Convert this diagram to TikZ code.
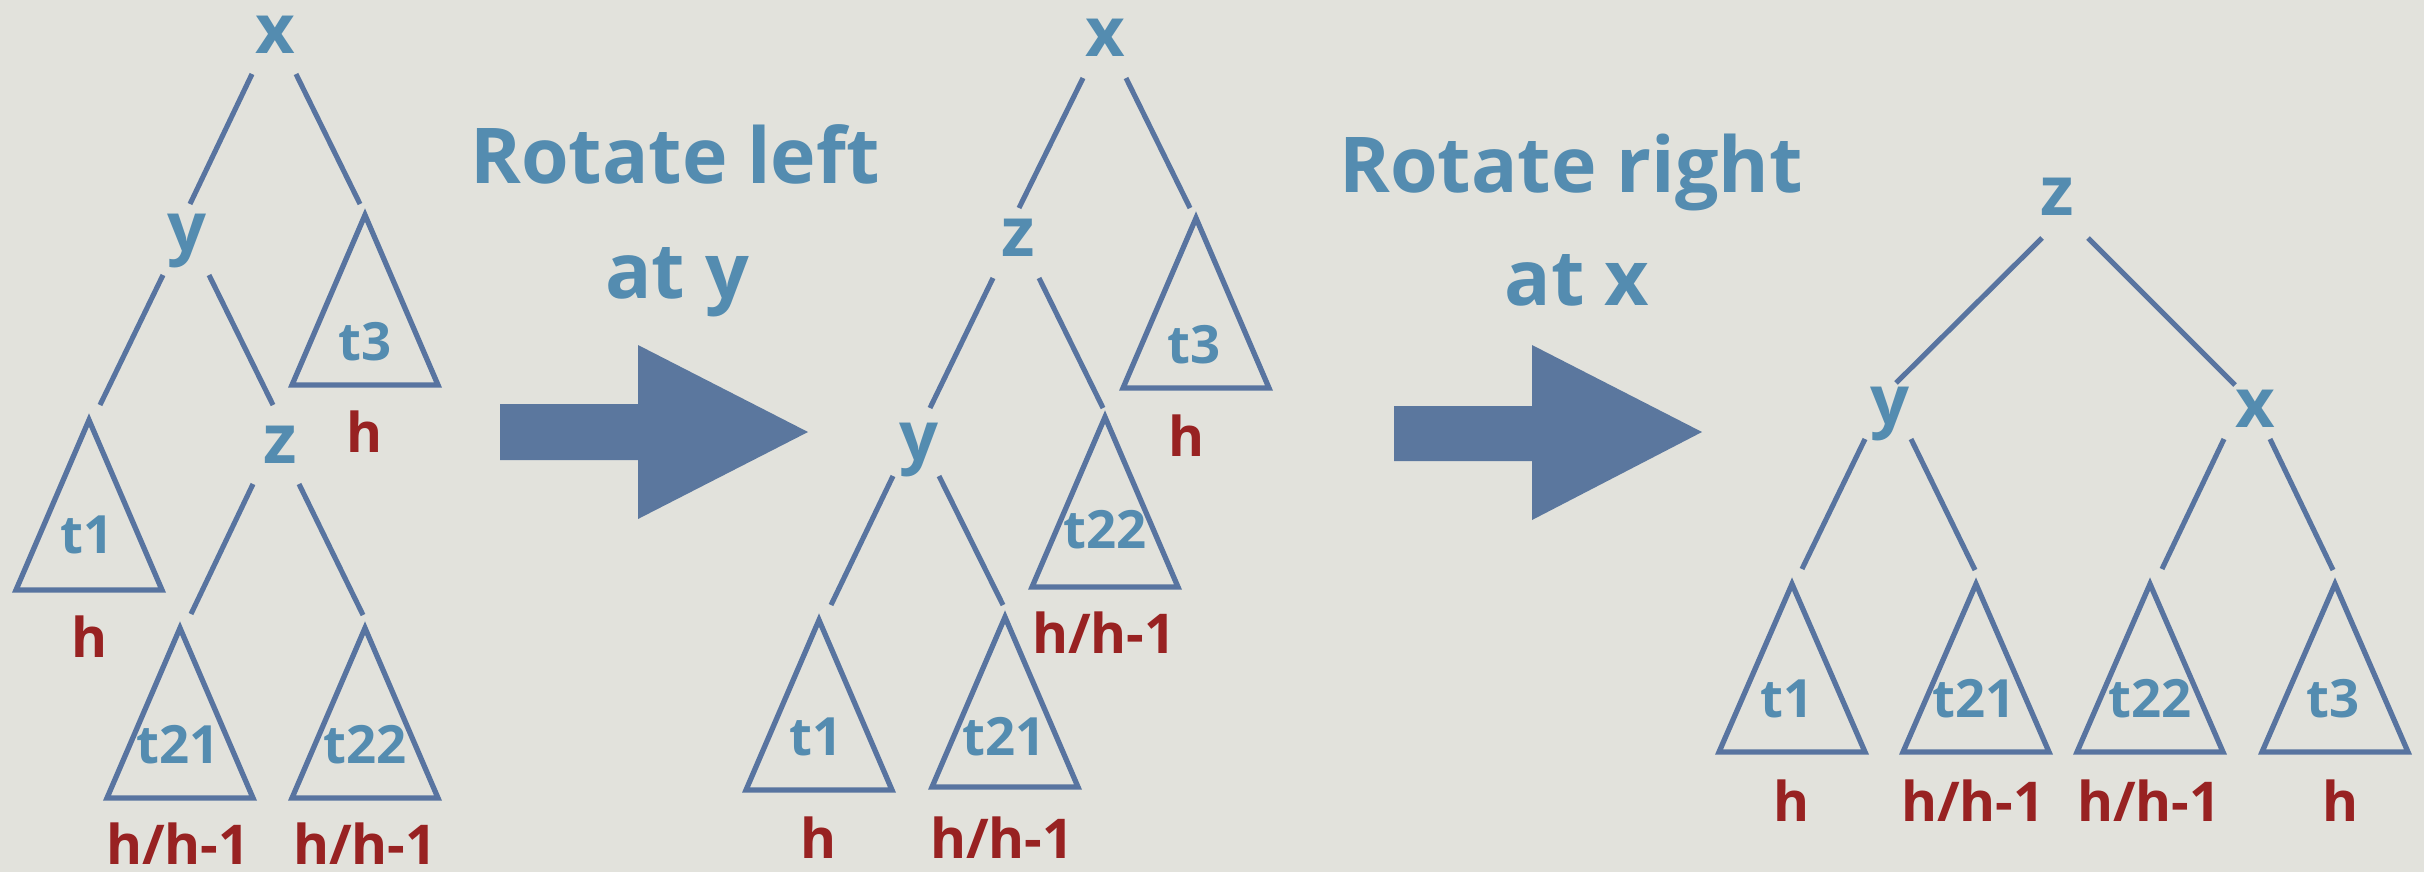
\documentclass[tikz,border=0pt]{standalone}
\usepackage{fontspec}
\setmainfont{Open Sans}
\definecolor{bgc}{RGB}{226,226,220}
\definecolor{txtblue}{RGB}{84,140,176}
\definecolor{lineblue}{RGB}{88,116,160}
\definecolor{arrowblue}{RGB}{91,119,158}
\definecolor{hred}{RGB}{152,34,34}
\begin{document}
\begin{tikzpicture}[x=0.01cm,y=-0.01cm,
  vlabel/.style={inner sep=0pt,anchor=base,text=txtblue,font=\bfseries\fontsize{19.5pt}{20pt}\selectfont},
  tlabel/.style={inner sep=0pt,anchor=base,text=txtblue,font=\bfseries\fontsize{15pt}{15pt}\selectfont},
  hlabel/.style={inner sep=0pt,anchor=base,text=hred,font=\bfseries\fontsize{15.6pt}{16pt}\selectfont},
  caption/.style={inner sep=0pt,anchor=base,text=txtblue,font=\bfseries\fontsize{21.9pt}{22pt}\selectfont},
  edge/.style={draw=lineblue,line width=1.45pt},
  tri/.style={draw=lineblue,line width=1.5pt,line join=miter},
  bigarrow/.style={fill=arrowblue,draw=none}]
\useasboundingbox (0,0) rectangle (2424,872);
\fill[bgc] (0,0) rectangle (2424,872);

% ---------- Tree 1 ----------
\node[vlabel] (X1) at (275,53) {x};
\node[vlabel] (Y1) at (187,251) {y};
\node[vlabel] (Z1) at (280,463) {z};
\coordinate (A1t3) at (365,215);
\coordinate (A1t1) at (89,420);
\coordinate (A1t21) at (180,628);
\coordinate (A1t22) at (365,628);
\foreach \a in {A1t3,A1t1,A1t21,A1t22}
  \draw[tri] (\a) -- ++(-73,170) -- ++(146,0) -- cycle;
\draw[edge] ([shift={(-23,21)}]X1.base) -- ([shift={(3,-47)}]Y1.base);
\draw[edge] ([shift={(21,21)}]X1.base) -- ([shift={(-5,-11)}]A1t3);
\draw[edge] ([shift={(-24,24)}]Y1.base) -- ([shift={(11,-15)}]A1t1);
\draw[edge] ([shift={(22,24)}]Y1.base) -- ([shift={(-7,-58)}]Z1.base);
\draw[edge] ([shift={(-27,21)}]Z1.base) -- ([shift={(11,-14)}]A1t21);
\draw[edge] ([shift={(19,21)}]Z1.base) -- ([shift={(-2,-13)}]A1t22);
\node[tlabel] (L1t3) at (365,360) {t3};
\node[tlabel] (L1t1) at (87,553) {t1};
\node[tlabel] (L1t21) at (178,763) {t21};
\node[tlabel] (L1t22) at (365,763) {t22};
\node[hlabel] (H1t3) at (365,452) {h};
\node[hlabel] (H1t1) at (90,657) {h};
\node[hlabel] (H1t21) at (178,864) {h/h-1};
\node[hlabel] (H1t22) at (365,864) {h/h-1};

% ---------- Caption 1 + arrow ----------
\node[caption] (C1a) at (675,183) {Rotate left};
\node[caption] (C1b) at (677,298) {at y};
\fill[bigarrow] (500,404) -- (638,404) -- (638,345) -- (808,432) -- (638,519) -- (638,460) -- (500,460) -- cycle;

% ---------- Tree 2 ----------
\node[vlabel] (X2) at (1105,56) {x};
\node[vlabel] (Z2) at (1018,256) {z};
\node[vlabel] (Y2) at (919,460) {y};
\coordinate (A2t3) at (1196,218);
\coordinate (A2t22) at (1105,417);
\coordinate (A2t1) at (819,620);
\coordinate (A2t21) at (1005,617);
\foreach \a in {A2t3,A2t22,A2t1,A2t21}
  \draw[tri] (\a) -- ++(-73,170) -- ++(146,0) -- cycle;
\draw[edge] ([shift={(-22,22)}]X2.base) -- ([shift={(1,-48)}]Z2.base);
\draw[edge] ([shift={(21,22)}]X2.base) -- ([shift={(-6,-10)}]A2t3);
\draw[edge] ([shift={(-25,22)}]Z2.base) -- ([shift={(11,-52)}]Y2.base);
\draw[edge] ([shift={(21,22)}]Z2.base) -- ([shift={(-2,-9)}]A2t22);
\draw[edge] ([shift={(-26,16)}]Y2.base) -- ([shift={(12,-15)}]A2t1);
\draw[edge] ([shift={(20,16)}]Y2.base) -- ([shift={(-2,-12)}]A2t21);
\node[tlabel] (L2t3) at (1194,363) {t3};
\node[tlabel] (L2t22) at (1105,548) {t22};
\node[tlabel] (L2t1) at (816,755) {t1};
\node[tlabel] (L2t21) at (1004,755) {t21};
\node[hlabel] (H2t3) at (1187,456) {h};
\node[hlabel] (H2t22) at (1104,653) {h/h-1};
\node[hlabel] (H2t1) at (819,858) {h};
\node[hlabel] (H2t21) at (1002,858) {h/h-1};

% ---------- Caption 2 + arrow ----------
\node[caption] (C2a) at (1571,192) {Rotate right};
\node[caption] (C2b) at (1577,305) {at x};
\fill[bigarrow] (1394,406) -- (1532,406) -- (1532,345) -- (1702,432) -- (1532,520) -- (1532,461) -- (1394,461) -- cycle;

% ---------- Tree 3 ----------
\node[vlabel] (Z3) at (2057,215) {z};
\node[vlabel] (Y3) at (1890,424) {y};
\node[vlabel] (X3) at (2255,427) {x};
\coordinate (A3t1) at (1792,584);
\coordinate (A3t21) at (1976,584);
\coordinate (A3t22) at (2150,584);
\coordinate (A3t3) at (2335,584);
\foreach \a in {A3t1,A3t21,A3t22,A3t3}
  \draw[tri] (\a) -- ++(-73,168) -- ++(146,0) -- cycle;
\draw[edge] ([shift={(-15,23)}]Z3.base) -- ([shift={(6,-41)}]Y3.base);
\draw[edge] ([shift={(31,23)}]Z3.base) -- ([shift={(-20,-42)}]X3.base);
\draw[edge] ([shift={(-25,15)}]Y3.base) -- ([shift={(10,-15)}]A3t1);
\draw[edge] ([shift={(21,15)}]Y3.base) -- ([shift={(-1,-14)}]A3t21);
\draw[edge] ([shift={(-31,12)}]X3.base) -- ([shift={(12,-15)}]A3t22);
\draw[edge] ([shift={(15,12)}]X3.base) -- ([shift={(-2,-14)}]A3t3);
\node[tlabel] (L3t1) at (1787,717) {t1};
\node[tlabel] (L3t21) at (1974,717) {t21};
\node[tlabel] (L3t22) at (2150,717) {t22};
\node[tlabel] (L3t3) at (2333,717) {t3};
\node[hlabel] (H3t1) at (1792,821) {h};
\node[hlabel] (H3t21) at (1973,821) {h/h-1};
\node[hlabel] (H3t22) at (2149,821) {h/h-1};
\node[hlabel] (H3t3) at (2340,821) {h};
\end{tikzpicture}
\end{document}
